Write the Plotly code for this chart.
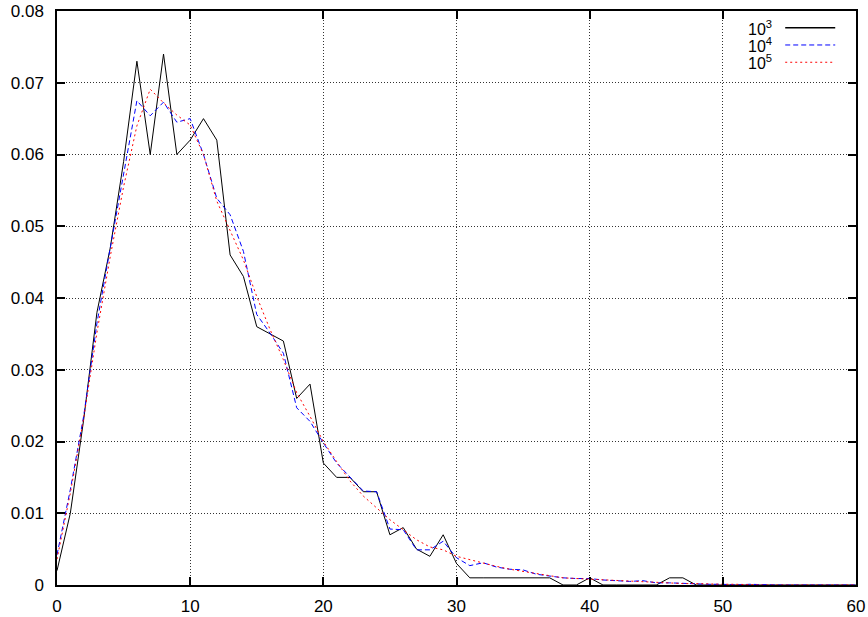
import plotly.graph_objects as go

# Cluster-size distribution for three sample counts (10^3, 10^4, 10^5)
k = list(range(0, 61))

p_1e3 = [0.002, 0.010, 0.023, 0.038, 0.047, 0.059, 0.073, 0.060, 0.074, 0.060,
         0.062, 0.065, 0.062, 0.046, 0.043, 0.036, 0.035, 0.034, 0.026, 0.028,
         0.017, 0.015, 0.015, 0.013, 0.013, 0.007, 0.008, 0.005, 0.004, 0.007,
         0.003, 0.001, 0.001, 0.001, 0.001, 0.001, 0.001, 0.001, 0.000, 0.000,
         0.001, 0.000, 0.000, 0.000, 0.000, 0.000, 0.001, 0.001, 0.000, 0.000,
         0.000, 0.000, 0.000, 0.000, 0.000, 0.000, 0.000, 0.000, 0.000, 0.000,
         0.000]

p_1e4 = [0.0042, 0.0133, 0.0235, 0.0365, 0.0470, 0.0575, 0.0675, 0.0654, 0.0673, 0.0645,
         0.0650, 0.0600, 0.0539, 0.0516, 0.0465, 0.0377, 0.0351, 0.0323, 0.0247, 0.0228,
         0.0198, 0.0170, 0.0150, 0.0131, 0.0130, 0.0078, 0.0077, 0.0049, 0.0049, 0.0061,
         0.0038, 0.0027, 0.0031, 0.0025, 0.0022, 0.0021, 0.0015, 0.0012, 0.0010, 0.0009,
         0.0009, 0.0007, 0.0006, 0.0005, 0.0006, 0.0003, 0.0003, 0.0002, 0.0001, 0.0001,
         0.0001, 0.0000, 0.0001, 0.0000, 0.0000, 0.0000, 0.0000, 0.0000, 0.0000, 0.0000,
         0.0000]

p_1e5 = [0.0036, 0.0128, 0.0232, 0.0352, 0.0458, 0.0555, 0.0640, 0.0691, 0.0672, 0.0655,
         0.0641, 0.0600, 0.0535, 0.0495, 0.0453, 0.0402, 0.0356, 0.0314, 0.0268, 0.0235,
         0.0200, 0.0172, 0.0145, 0.0124, 0.0107, 0.0091, 0.0077, 0.0063, 0.0053, 0.0049,
         0.0040, 0.0035, 0.0030, 0.0026, 0.0022, 0.0019, 0.0015, 0.0012, 0.0010, 0.0009,
         0.0008, 0.0007, 0.0006, 0.0005, 0.0004, 0.0003, 0.0003, 0.0002, 0.0002, 0.0001,
         0.0001, 0.0001, 0.0000, 0.0000, 0.0000, 0.0000, 0.0000, 0.0000, 0.0000, 0.0000,
         0.0000]

x_ticks = [0, 10, 20, 30, 40, 50, 60]
y_ticks = [0, 0.01, 0.02, 0.03, 0.04, 0.05, 0.06, 0.07, 0.08]
y_tick_text = ["0", "0.01", "0.02", "0.03", "0.04", "0.05", "0.06", "0.07", "0.08"]

series = [
    ("10<sup>3</sup>", p_1e3, "black", "solid"),
    ("10<sup>4</sup>", p_1e4, "#0000ff", "5px,3px"),
    ("10<sup>5</sup>", p_1e5, "#ff0000", "2px,3px"),
]

FONT = "Liberation Sans, Arial, Helvetica, sans-serif"

fig = go.Figure()
for name, vals, color, dash in series:
    fig.add_trace(go.Scatter(x=k, y=vals, mode="lines", name=name,
                             line=dict(color=color, width=1, dash=dash),
                             showlegend=False))

axis_common = dict(
    showline=True, linecolor="black", linewidth=1.5, mirror="ticks",
    ticks="inside", ticklen=8, tickwidth=1.5, tickcolor="black",
    showgrid=True, gridcolor="#333333", gridwidth=1, griddash="1px,2px",
    zeroline=False, tickfont=dict(family=FONT, size=17, color="black"),
    automargin=False,
)

fig.update_xaxes(range=[0, 60], tickmode="array", tickvals=x_ticks,
                 ticklabelstandoff=5, **axis_common)
fig.update_yaxes(range=[0, 0.08], tickmode="array", tickvals=y_ticks,
                 ticktext=y_tick_text, ticklabelstandoff=8, **axis_common)

# Key in the upper-right corner: label on the left, line sample on the right
key_rows = [0.971, 0.9408, 0.9107]
shapes = []
annotations = []
for (name, vals, color, dash), yr in zip(series, key_rows):
    annotations.append(dict(xref="paper", yref="paper", x=0.8977, y=yr,
                            xanchor="right", yanchor="middle", showarrow=False,
                            text=name, font=dict(family=FONT, size=16, color="black")))
    shapes.append(dict(type="line", xref="paper", yref="paper",
                       x0=0.9114, x1=0.974, y0=yr, y1=yr,
                       line=dict(color=color, width=1.5 if color == "black" else 1, dash=dash)))

fig.update_layout(
    width=868, height=617,
    margin=dict(l=57, r=12, t=11, b=32),
    paper_bgcolor="white", plot_bgcolor="white",
    font=dict(family=FONT, size=17, color="black"),
    shapes=shapes, annotations=annotations,
)

fig.write_html("out.html")
